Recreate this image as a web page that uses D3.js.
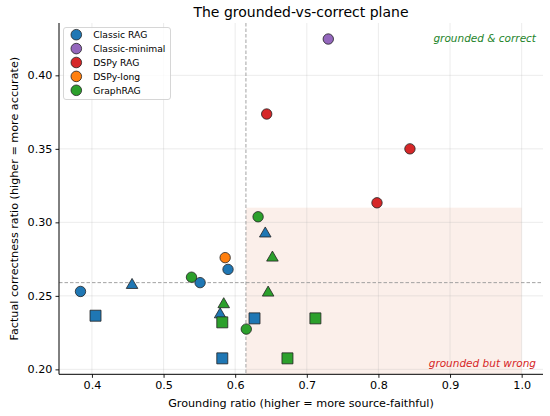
<!DOCTYPE html>
<html><head><meta charset="utf-8">
<script src="https://cdn.jsdelivr.net/npm/d3@7"></script>
<style>body{margin:0;background:#fff}svg{display:block;font-family:"DejaVu Sans",sans-serif}</style>
</head><body><svg id="c" width="550" height="416"></svg>
<script>
const systems = ["Classic RAG","Classic-minimal","DSPy RAG","DSPy-long","GraphRAG"];
const colors = ["#1f77b4","#9467bd","#d62728","#ff7f0e","#2ca02c"];
// points: system, shape, grounding, correctness
const pSystem = ["Classic RAG","Classic RAG","Classic RAG","Classic RAG","Classic RAG","Classic RAG","Classic RAG","Classic RAG","Classic RAG",
  "GraphRAG","GraphRAG","GraphRAG","GraphRAG","GraphRAG","GraphRAG","GraphRAG","GraphRAG","GraphRAG",
  "Classic-minimal","DSPy-long","DSPy RAG","DSPy RAG","DSPy RAG"];
const pShape = ["circle","circle","circle","triangle","triangle","triangle","square","square","square",
  "circle","circle","circle","triangle","triangle","triangle","square","square","square",
  "circle","circle","circle","circle","circle"];
const pX = [0.384,0.551,0.590,0.456,0.642,0.579,0.405,0.582,0.627,
  0.539,0.632,0.6155,0.652,0.646,0.584,0.582,0.673,0.712,
  0.730,0.586,0.644,0.844,0.798];
const pY = [0.253,0.259,0.268,0.258,0.293,0.238,0.2365,0.2075,0.2347,
  0.2627,0.3038,0.2274,0.2766,0.2528,0.2449,0.232,0.2075,0.2347,
  0.4247,0.276,0.3737,0.350,0.3133];
const xTicks = [0.4,0.5,0.6,0.7,0.8,0.9,1.0];
const yTicks = [0.20,0.25,0.30,0.35,0.40];
const xThresh = 0.615, yThresh = 0.259;
const shadeTop = 0.31, shadeRight = 1.0;

const svg = d3.select("#c");
const L=59,R=543,T=23,B=374.3;
const x = d3.scaleLinear().domain([0.354,1.0298]).range([L,R]);
const y = d3.scaleLinear().domain([0.19665,0.4356]).range([B,T]);
const col = d3.scaleOrdinal().domain(systems).range(colors);

// shaded region
svg.append("rect").attr("x",x(xThresh)).attr("y",y(shadeTop))
  .attr("width",x(shadeRight)-x(xThresh)).attr("height",B-y(shadeTop))
  .attr("fill","#fbefea");

// grid
svg.append("g").selectAll("line").data(xTicks).join("line")
  .attr("x1",d=>x(d)).attr("x2",d=>x(d)).attr("y1",T).attr("y2",B)
  .attr("stroke","#b0b0b0").attr("stroke-opacity",0.3).attr("stroke-width",0.8);
svg.append("g").selectAll("line").data(yTicks).join("line")
  .attr("y1",d=>y(d)).attr("y2",d=>y(d)).attr("x1",L).attr("x2",R)
  .attr("stroke","#b0b0b0").attr("stroke-opacity",0.3).attr("stroke-width",0.8);

// threshold lines
svg.append("line").attr("x1",x(xThresh)).attr("x2",x(xThresh)).attr("y1",T).attr("y2",B)
  .attr("stroke","#999").attr("stroke-width",0.9).attr("stroke-dasharray","3.5,2");
svg.append("line").attr("y1",y(yThresh)).attr("y2",y(yThresh)).attr("x1",L).attr("x2",R)
  .attr("stroke","#999").attr("stroke-width",0.9).attr("stroke-dasharray","3.5,2");

// axes
const xa = svg.append("g").attr("transform",`translate(0,${B})`)
  .call(d3.axisBottom(x).tickValues(xTicks).tickFormat(d3.format(".1f")).tickSize(3.5).tickPadding(3));
const ya = svg.append("g").attr("transform",`translate(${L},0)`)
  .call(d3.axisLeft(y).tickValues(yTicks).tickFormat(d3.format(".2f")).tickSize(3.5).tickPadding(3));
[xa,ya].forEach(a=>{
  a.select(".domain").attr("stroke","#000").attr("stroke-width",1);
  a.selectAll(".tick line").attr("stroke","#000").attr("stroke-width",0.9);
  a.selectAll(".tick text").attr("font-size",11.2).attr("fill","#000").attr("font-family","DejaVu Sans");
});
xa.select(".domain").attr("d",`M${L},0H${R}`);
ya.select(".domain").attr("d",`M0,${B}V${T}`);

// points
const pts = pX.map((v,i)=>({x:v,y:pY[i],s:pSystem[i],shape:pShape[i]}));
const sym = {circle:d3.symbolCircle, square:d3.symbolSquare, triangle:d3.symbolTriangle};
const area = {circle:Math.PI*5.2*5.2, square:11*11, triangle:58};
svg.append("g").selectAll("path").data(pts).join("path")
  .attr("transform",d=>`translate(${x(d.x)},${y(d.y)+(d.shape==="triangle"?1:0)})`)
  .attr("d",d=>d3.symbol(sym[d.shape],area[d.shape])())
  .attr("fill",d=>col(d.s)).attr("stroke","#222").attr("stroke-width",0.8);

// annotations
svg.append("text").attr("x",536).attr("y",41.7).attr("text-anchor","end")
  .attr("font-size",10.5).attr("font-style","italic").attr("fill","#1e842a").text("grounded & correct");
svg.append("text").attr("x",536).attr("y",366.8).attr("text-anchor","end")
  .attr("font-size",10.5).attr("font-style","italic").attr("fill","#d62728").text("grounded but wrong");

// title & labels
svg.append("text").attr("x",(L+R)/2).attr("y",17).attr("text-anchor","middle")
  .attr("font-size",14).attr("fill","#000").text("The grounded-vs-correct plane");
svg.append("text").attr("x",(L+R)/2).attr("y",407).attr("text-anchor","middle")
  .attr("font-size",11.2).attr("fill","#000").text("Grounding ratio (higher = more source-faithful)");
svg.append("text").attr("transform",`translate(18,${(T+B)/2}) rotate(-90)`).attr("text-anchor","middle")
  .attr("font-size",11.2).attr("fill","#000").text("Factual correctness ratio (higher = more accurate)");

// legend
const lg = svg.append("g");
lg.append("rect").attr("x",63.5).attr("y",27.5).attr("width",107).attr("height",72).attr("rx",2.5)
  .attr("fill","#fff").attr("fill-opacity",0.8).attr("stroke","#ccc").attr("stroke-width",0.8);
const le = lg.selectAll("g.e").data(systems).join("g").attr("class","e")
  .attr("transform",(d,i)=>`translate(76.3,${34.7+i*13.9})`);
le.append("circle").attr("r",5.3).attr("fill",d=>col(d)).attr("stroke","#222").attr("stroke-width",0.8);
le.append("text").attr("x",17).attr("y",3.3).attr("font-size",9.2).attr("fill","#000").text(d=>d);
</script></body></html>
